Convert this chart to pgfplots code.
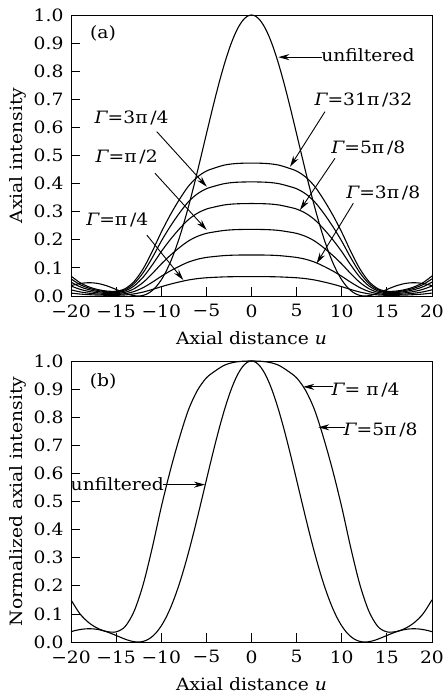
\documentclass[border=0pt]{standalone}
\usepackage{fontspec}
\setmainfont[FakeStretch=1.1]{DejaVu Serif}
\usepackage{pgfplots}
\pgfplotsset{compat=1.18}
\usepackage{pgfplotstable}
\usetikzlibrary{arrows.meta}

% Axial intensity of the filtered pupils, one column per phase Gamma
\pgfplotstableread{
u    g1     g2     g3     g4     g5     g6
-20  0.0104 0.0219 0.0356 0.0494 0.0609 0.0710
-19  0.0069 0.0146 0.0237 0.0329 0.0406 0.0473
-18  0.0047 0.0099 0.0161 0.0224 0.0276 0.0322
-17  0.0033 0.0070 0.0114 0.0158 0.0195 0.0227
-16  0.0026 0.0054 0.0088 0.0122 0.0150 0.0175
-15  0.0025 0.0053 0.0085 0.0118 0.0146 0.0170
-14  0.0038 0.0080 0.0130 0.0181 0.0223 0.0260
-13  0.0076 0.0161 0.0261 0.0362 0.0447 0.0520
-12  0.0141 0.0299 0.0486 0.0674 0.0832 0.0970
-11  0.0231 0.0489 0.0794 0.1102 0.1360 0.1585
-10  0.0331 0.0701 0.1138 0.1579 0.1949 0.2270
-9   0.0421 0.0891 0.1446 0.2007 0.2477 0.2885
-8   0.0500 0.1059 0.1718 0.2385 0.2944 0.3429
-7   0.0569 0.1205 0.1955 0.2714 0.3350 0.3902
-6   0.0618 0.1307 0.2121 0.2945 0.3634 0.4233
-5   0.0649 0.1372 0.2228 0.3093 0.3816 0.4446
-4   0.0666 0.1409 0.2287 0.3175 0.3918 0.4564
-3   0.0680 0.1438 0.2334 0.3241 0.3999 0.4659
-2   0.0687 0.1453 0.2358 0.3274 0.4040 0.4706
-1   0.0689 0.1459 0.2368 0.3287 0.4056 0.4725
0    0.0690 0.1460 0.2370 0.3290 0.4060 0.4730
1    0.0689 0.1459 0.2368 0.3287 0.4056 0.4725
2    0.0687 0.1453 0.2358 0.3274 0.4040 0.4706
3    0.0680 0.1438 0.2334 0.3241 0.3999 0.4659
4    0.0666 0.1409 0.2287 0.3175 0.3918 0.4564
5    0.0649 0.1372 0.2228 0.3093 0.3816 0.4446
6    0.0618 0.1307 0.2121 0.2945 0.3634 0.4233
7    0.0569 0.1205 0.1955 0.2714 0.3350 0.3902
8    0.0500 0.1059 0.1718 0.2385 0.2944 0.3429
9    0.0421 0.0891 0.1446 0.2007 0.2477 0.2885
10   0.0331 0.0701 0.1138 0.1579 0.1949 0.2270
11   0.0231 0.0489 0.0794 0.1102 0.1360 0.1585
12   0.0141 0.0299 0.0486 0.0674 0.0832 0.0970
13   0.0076 0.0161 0.0261 0.0362 0.0447 0.0520
14   0.0038 0.0080 0.0130 0.0181 0.0223 0.0260
15   0.0025 0.0053 0.0085 0.0118 0.0146 0.0170
16   0.0026 0.0054 0.0088 0.0122 0.0150 0.0175
17   0.0033 0.0070 0.0114 0.0158 0.0195 0.0227
18   0.0047 0.0099 0.0161 0.0224 0.0276 0.0322
19   0.0069 0.0146 0.0237 0.0329 0.0406 0.0473
20   0.0104 0.0219 0.0356 0.0494 0.0609 0.0710
}\filtered

% Axial intensity without filter
\pgfplotstableread{
u     I
-20   0.0368
-19.5 0.0410
-19   0.0443
-18.5 0.0464
-18   0.0472
-17.5 0.0465
-17   0.0444
-16.5 0.0407
-16   0.0358
-15.5 0.0298
-15   0.0232
-14.5 0.0165
-14   0.0100
-13.5 0.0047
-13   0.0011
-12.5 0.0000
-12   0.0022
-11.5 0.0084
-11   0.0193
-10.5 0.0354
-10   0.0573
-9.5  0.0853
-9    0.1196
-8.5  0.1603
-8    0.2067
-7.5  0.2589
-7    0.3162
-6.5  0.3776
-6    0.4422
-5.5  0.5089
-5    0.5764
-4.5  0.6432
-4    0.7081
-3.5  0.7695
-3    0.8260
-2.5  0.8764
-2    0.9194
-1.5  0.9540
-1    0.9793
-0.5  0.9948
0     1.0000
0.5   0.9948
1     0.9793
1.5   0.9540
2     0.9194
2.5   0.8764
3     0.8260
3.5   0.7695
4     0.7081
4.5   0.6432
5     0.5764
5.5   0.5089
6     0.4422
6.5   0.3776
7     0.3162
7.5   0.2589
8     0.2067
8.5   0.1603
9     0.1196
9.5   0.0853
10    0.0573
10.5  0.0354
11    0.0193
11.5  0.0084
12    0.0022
12.5  0.0000
13    0.0011
13.5  0.0047
14    0.0100
14.5  0.0165
15    0.0232
15.5  0.0298
16    0.0358
16.5  0.0407
17    0.0444
17.5  0.0465
18    0.0472
18.5  0.0464
19    0.0443
19.5  0.0410
20    0.0368
}\unfiltered

% Normalized axial intensity of the filtered pupil
\pgfplotstableread{
u    F
-20  0.150
-19  0.100
-18  0.068
-17  0.048
-16  0.037
-15  0.036
-14  0.055
-13  0.110
-12  0.205
-11  0.335
-10  0.480
-9   0.610
-8   0.725
-7   0.825
-6   0.895
-5   0.940
-4   0.965
-3   0.985
-2   0.995
-1   0.999
0    1.000
1    0.999
2    0.995
3    0.985
4    0.965
5    0.940
6    0.895
7    0.825
8    0.725
9    0.610
10   0.480
11   0.335
12   0.205
13   0.110
14   0.055
15   0.036
16   0.037
17   0.048
18   0.068
19   0.100
20   0.150
}\normfilt

\newcommand\lab{\fontsize{17}{20}\selectfont}
\newcommand\G{{\itshape Γ}}

\tikzset{arr/.style={-{Stealth[length=11pt,width=6pt]}, line width=0.9pt}}

\pgfplotsset{
  panel/.style={
    scale only axis, width=361pt, height=281pt,
    xmin=-20, xmax=20, ymin=0, ymax=1,
    xtick={-20,-15,-10,-5,0,5,10,15,20},
    xticklabels={−20,−15,−10,−5,0,5,10,15,20},
    ytick={0,0.1,0.2,0.3,0.4,0.5,0.6,0.7,0.8,0.9,1},
    yticklabels={0.0,0.1,0.2,0.3,0.4,0.5,0.6,0.7,0.8,0.9,1.0},
    tick align=inside, tick pos=left,
    major tick length=9pt,
    tick style={line width=0.8pt, black},
    axis line style={line width=0.9pt},
    tick label style={font=\lab},
    label style={font=\lab},
    xticklabel style={yshift=-5pt},
    yticklabel style={xshift=-4pt},
    xlabel={Axial distance \textit{u}},
    xlabel style={at={(axis description cs:0.5,-0.15)}, anchor=center},
    ylabel style={at={(axis description cs:-0.147,0.5)}, anchor=center},
    no markers,
    cycle list={{black, solid, mark=none}},
    every axis plot post/.append style={line width=1.1pt, smooth},
  },
}

\begin{document}
\begin{tikzpicture}
\useasboundingbox (-71pt,-53pt) rectangle (372pt,642pt);

% (a) axial intensity
\begin{axis}[panel, at={(0pt,346pt)}, anchor=south west, ylabel={Axial intensity}]
\addplot table[x=u, y=I] {\unfiltered};
\addplot table[x=u, y=g1] {\filtered};
\addplot table[x=u, y=g2] {\filtered};
\addplot table[x=u, y=g3] {\filtered};
\addplot table[x=u, y=g4] {\filtered};
\addplot table[x=u, y=g5] {\filtered};
\addplot table[x=u, y=g6] {\filtered};

\node[font=\lab] at (axis cs:-16.45,0.936) {(a)};
\node[font=\lab] at (axis cs:12.9,0.857) {unfiltered};
\draw[arr] (axis cs:7.78,0.85) -- (axis cs:2.97,0.85);
\node[font=\lab] at (axis cs:12.4,0.698) {\G=31π\,/32};
\draw[arr] (axis cs:8.14,0.656) -- (axis cs:4.27,0.46);
\node[font=\lab] at (axis cs:12.95,0.525) {\G=5π\,/8};
\draw[arr] (axis cs:9.25,0.49) -- (axis cs:5.37,0.306);
\node[font=\lab] at (axis cs:14.6,0.365) {\G=3π\,/8};
\draw[arr] (axis cs:11.28,0.33) -- (axis cs:7.22,0.116);
\node[font=\lab] at (axis cs:-13.28,0.632) {\G=3π\,/4};
\draw[arr] (axis cs:-10.5,0.585) -- (axis cs:-4.96,0.389);
\node[font=\lab] at (axis cs:-13.83,0.496) {\G=π\,/2};
\draw[arr] (axis cs:-10.7,0.437) -- (axis cs:-4.96,0.235);
\node[font=\lab] at (axis cs:-14.87,0.27) {\G=π\,/4};
\draw[arr] (axis cs:-11.6,0.217) -- (axis cs:-7.56,0.057);
\end{axis}

% (b) normalized axial intensity
\begin{axis}[panel, at={(0pt,0pt)}, anchor=south west, ylabel={Normalized axial intensity}]
\addplot table[x=u, y=I] {\unfiltered};
\addplot table[x=u, y=F] {\normfilt};

\node[font=\lab] at (axis cs:-16.45,0.926) {(b)};
\node[font=\lab] at (axis cs:12.65,0.897) {\G= π\,/4};
\draw[arr] (axis cs:9.07,0.908) -- (axis cs:5.74,0.908);
\node[font=\lab] at (axis cs:14.3,0.754) {\G=5π\,/8};
\draw[arr] (axis cs:10.36,0.764) -- (axis cs:7.4,0.764);
\node[font=\lab] at (axis cs:-14.87,0.562) {unfiltered};
\draw[arr] (axis cs:-9.77,0.56) -- (axis cs:-5.15,0.56);
\end{axis}
\end{tikzpicture}
\end{document}
